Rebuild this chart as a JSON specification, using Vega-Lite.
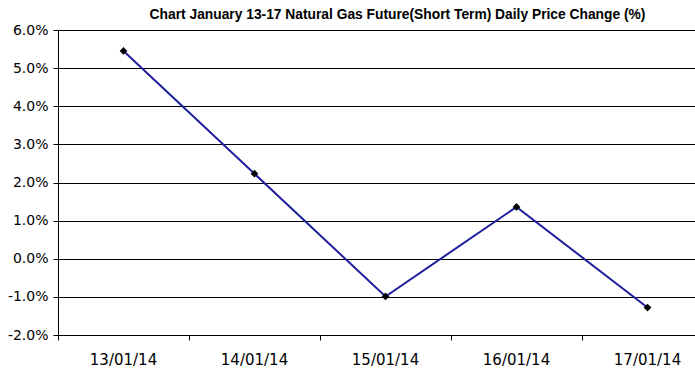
{
  "$schema": "https://vega.github.io/schema/vega-lite/v6.json",
  "autosize": {"type": "none"},
  "width": 637,
  "height": 305,
  "padding": {"left": 58, "top": 30, "right": 0, "bottom": 46},
  "background": "white",
  "title": {
    "text": "Chart January 13-17 Natural Gas Future(Short Term) Daily Price Change (%)",
    "font": "Liberation Sans",
    "fontSize": 13.8,
    "fontWeight": "bold",
    "color": "black",
    "anchor": "middle",
    "frame": "group",
    "dx": 21,
    "offset": 1
  },
  "data": {
    "values": [
      {"date": "13/01/14", "change": 0.0545},
      {"date": "14/01/14", "change": 0.0223},
      {"date": "15/01/14", "change": -0.0099},
      {"date": "16/01/14", "change": 0.0136},
      {"date": "17/01/14", "change": -0.0128}
    ]
  },
  "config": {
    "view": {"stroke": null},
    "axis": {"labelFont": "DejaVu Sans", "labelColor": "black", "domainColor": "black", "tickColor": "black", "gridColor": "black", "gridOpacity": 1}
  },
  "encoding": {
    "x": {
      "field": "date",
      "type": "ordinal",
      "sort": null,
      "scale": {"type": "band", "paddingInner": 0, "paddingOuter": 0, "range": [0, 655]},
      "axis": {"title": null, "labelAngle": 0, "labelFontSize": 15, "labelPadding": 12, "tickSize": 5, "domainWidth": 1, "tickWidth": 1, "grid": false, "bandPosition": 0, "labelBound": false}
    },
    "y": {
      "field": "change",
      "type": "quantitative",
      "scale": {"domain": [-0.02, 0.06], "nice": false, "zero": false},
      "axis": {"title": null, "values": [-0.02, -0.01, 0, 0.01, 0.02, 0.03, 0.04, 0.05, 0.06], "labelExpr": "replace(format(datum.value, '.1%'), '\u2212', '-')", "labelFontSize": 14, "labelPadding": 5, "tickSize": 5, "grid": true, "gridWidth": 1}
    }
  },
  "layer": [
    {"mark": {"type": "line", "color": "#1f1f9e", "strokeWidth": 2}},
    {"mark": {"type": "point", "shape": "diamond", "filled": true, "color": "black", "size": 60, "opacity": 1}}
  ]
}
